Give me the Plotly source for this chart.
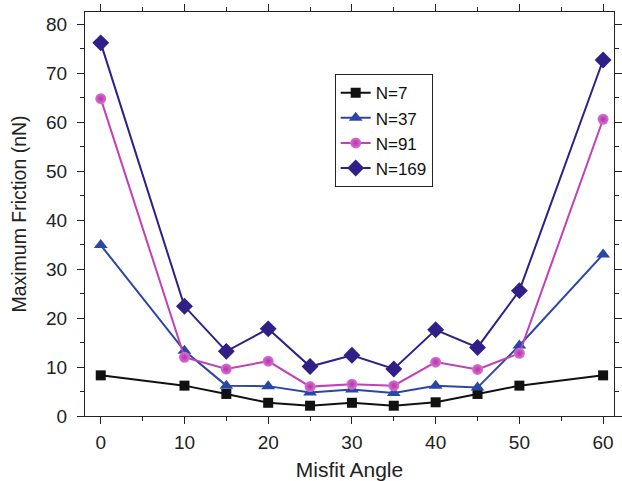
import plotly.graph_objects as go

angles = [0, 10, 15, 20, 25, 30, 35, 40, 45, 50, 60]
n7 = [8.3, 6.2, 4.5, 2.7, 2.1, 2.7, 2.1, 2.8, 4.5, 6.2, 8.3]
n37 = [34.9, 13.3, 6.2, 6.1, 4.8, 5.4, 4.7, 6.2, 5.8, 14.4, 33.0]
n91 = [64.8, 12.0, 9.6, 11.2, 6.0, 6.5, 6.2, 11.0, 9.5, 12.8, 60.6]
n169 = [76.2, 22.4, 13.2, 17.8, 10.1, 12.4, 9.6, 17.6, 14.0, 25.6, 72.7]

series = [
    ("N=7", n7, "#111111", "square", 10, None),
    ("N=37", n37, "#2b47a6", "triangle-up", 12, None),
    ("N=91", n91, "#c040b8", "circle", 11, "#d873d0"),
    ("N=169", n169, "#2f1f86", "diamond", 13, None),
]

fig = go.Figure()
for name, ys, col, sym, sz, grad in series:
    mk = dict(symbol=sym, size=sz, color=col, line=dict(width=0))
    if grad:
        mk = dict(symbol=sym, size=sz, color=grad, line=dict(width=0),
                  gradient=dict(type="radial", color="#b432ac"))
    fig.add_trace(go.Scatter(
        x=angles, y=ys, name=name, mode="lines+markers",
        line=dict(color=col, width=2),
        marker=mk,
    ))

FONT = "Liberation Sans, Arial"
axis_common = dict(
    showline=True, linecolor="#222", linewidth=1.2, mirror="allticks",
    ticks="outside", ticklen=7, tickwidth=1.2, tickcolor="#222",
    showgrid=False, zeroline=False,
    tickfont=dict(family=FONT, size=19, color="#222"),
)

fig.update_xaxes(
    range=[-1.88, 61.3], tickvals=[0, 10, 20, 30, 40, 50, 60],
    minor=dict(tickvals=[5, 15, 25, 35, 45, 55], ticks="outside", ticklen=4, tickcolor="#222", tickwidth=1),
    title=dict(text="Misfit Angle", font=dict(family=FONT, size=21, color="#222"), standoff=10),
    ticklabelstandoff=2,
    **axis_common,
)
fig.update_yaxes(
    range=[0, 82.5], tickvals=[0, 10, 20, 30, 40, 50, 60, 70, 80],
    minor=dict(tickvals=[5, 15, 25, 35, 45, 55, 65, 75], ticks="outside", ticklen=4, tickcolor="#222", tickwidth=1),
    title=dict(text="Maximum Friction (nN)", font=dict(family=FONT, size=19.5, color="#222"), standoff=14),
    ticklabelstandoff=6,
    **axis_common,
)

fig.update_layout(
    width=622, height=481,
    margin=dict(l=85, r=0, t=12, b=65),
    plot_bgcolor="white", paper_bgcolor="white",
    legend=dict(
        x=0.472, y=0.846, xanchor="left", yanchor="top",
        bgcolor="white", bordercolor="#222", borderwidth=1,
        font=dict(family=FONT, size=17, color="#111"),
        tracegroupgap=0, itemwidth=30,
    ),
    showlegend=True,
)

fig.write_html("out.html")
